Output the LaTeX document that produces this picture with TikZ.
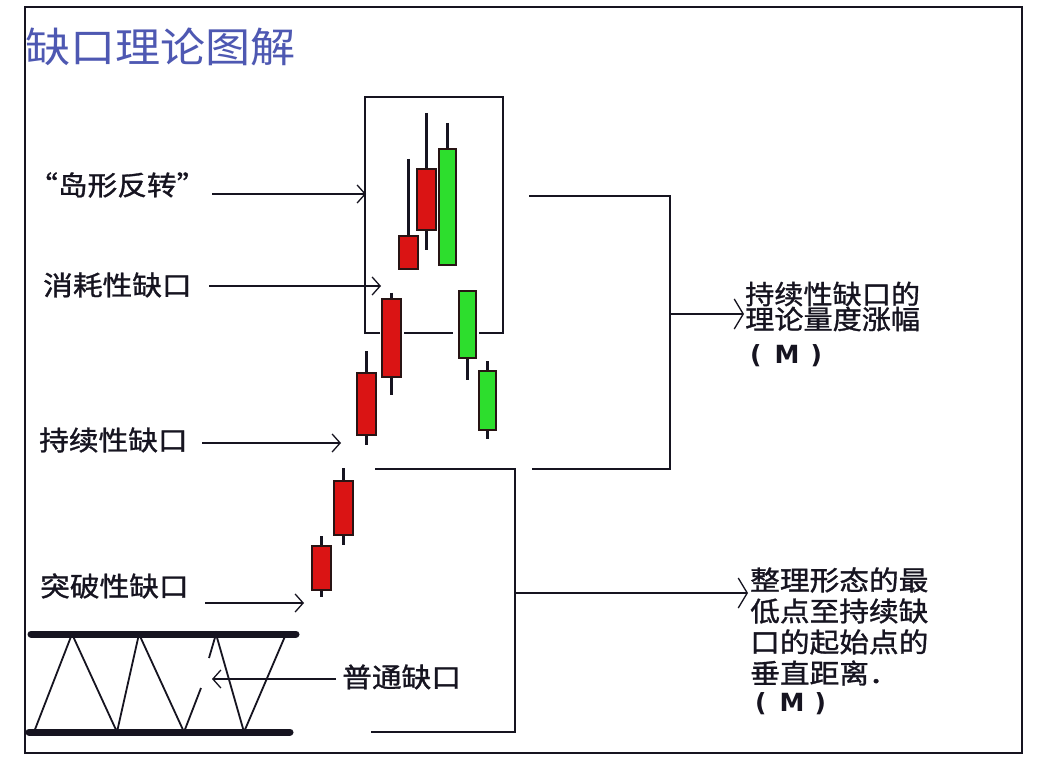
\documentclass[tikz,border=0pt]{standalone}
\usepackage{fontspec}
\usetikzlibrary{arrows.meta}
\newfontfamily\cjk[FakeStretch=1.1,FakeBold=1.2]{Noto Sans CJK SC}
\newfontfamily\cjkt[FakeStretch=1.1]{Noto Sans CJK SC}
\newfontfamily\mfont{DejaVu Sans}
\definecolor{ttl}{RGB}{78,88,178}
\definecolor{cred}{RGB}{218,20,20}
\definecolor{cgreen}{RGB}{45,222,45}
\definecolor{ink}{RGB}{22,20,32}
\definecolor{cedge}{RGB}{40,20,20}
\newcommand\candlebar[7]{%
  \draw[ink, line width=2.2pt] ({(#1+#2)/2},#3) -- ({(#1+#2)/2},#6);
  \filldraw[fill=#7, draw=cedge, line width=1.5pt] (#1,#4) rectangle (#2,#5);
}
\begin{document}
\begin{tikzpicture}[x=1pt,y=-1pt,
  lbl/.style={inner sep=0pt, anchor=west, text=ink, font=\cjk\fontsize{27}{27}\selectfont},
  rlbl/.style={inner sep=0pt, anchor=west, text=ink, font=\cjk\fontsize{26.5}{26.5}\selectfont},
  mlbl/.style={inner sep=0pt, anchor=west, text=ink, font=\mfont\bfseries\fontsize{25}{25}\selectfont},
  ttlstyle/.style={inner sep=0pt, anchor=west, text=ttl, font=\cjkt\fontsize{41}{41}\selectfont},
  line/.style={draw=ink, line width=1.8pt},
  arr/.style={draw=ink, line width=1.3pt, -{Straight Barb[length=8pt,width=18pt,line width=1.3pt]}},
  rarr/.style={draw=ink, line width=1.5pt, -{Straight Barb[length=9pt,width=30pt,line width=1.3pt]}},
  bar/.style={draw=ink, line width=7pt, line cap=round},
  zig/.style={draw=ink, line width=1.8pt, line join=miter}
]
\useasboundingbox (0,0) rectangle (1050,770);
\fill[white] (0,0) rectangle (1050,770);
\draw[ink, line width=2pt] (25,7) rectangle (1022,753);

% title
\node[ttlstyle] (title) at (25,47) {缺口理论图解};

% left labels
\node[lbl] (island) at (28,185) {“岛形反转”};
\node[lbl] (exhaust) at (43,285) {消耗性缺口};
\node[lbl] (contin) at (39,440) {持续性缺口};
\node[lbl] (breakaway) at (40,586) {突破性缺口};
\node[lbl] (common) at (342,677) {普通缺口};

% island box
\draw[line] (380,333) -- (365,333) -- (365,97) -- (503,97) -- (503,333) -- (479,333);
\draw[line] (404,333) -- (453,333);

% candles
\candlebar{399}{418}{159}{236}{269}{269}{cred}
\candlebar{417}{436}{113}{169}{230}{250}{cred}
\candlebar{439}{456}{123}{149}{265}{265}{cgreen}
\candlebar{382}{401}{293}{299}{377}{395}{cred}
\candlebar{459}{476}{291}{291}{358}{380}{cgreen}
\candlebar{479}{496}{361}{371}{430}{439}{cgreen}
\candlebar{357}{376}{351}{373}{435}{445}{cred}
\candlebar{334}{353}{468}{481}{535}{545}{cred}
\candlebar{312}{331}{536}{546}{590}{597}{cred}

% left arrows
\coordinate (a1s) at (212,194); \coordinate (a1e) at (366,194);
\coordinate (a2s) at (209,286); \coordinate (a2e) at (381,286);
\coordinate (a3s) at (202,443); \coordinate (a3e) at (341,443);
\coordinate (a4s) at (205,603); \coordinate (a4e) at (304,603);
\coordinate (a5s) at (336,679); \coordinate (a5e) at (212,679);
\draw[arr] (a1s) -- (a1e);
\draw[arr] (a2s) -- (a2e);
\draw[arr] (a3s) -- (a3e);
\draw[arr] (a4s) -- (a4e);
\draw[arr] (a5s) -- (a5e);

% zigzag consolidation
\draw[zig] (34,732) -- (72,634) -- (117,732) -- (139,634) -- (184,732) -- (201,688);
\draw[zig] (209,658) -- (216,634) -- (244,732) -- (286,634);
\draw[bar] (31,634) -- (296,634);
\draw[bar] (29,732) -- (290,732);

% upper bracket
\coordinate (ub1) at (529,196); \coordinate (ub2) at (670,196);
\coordinate (ub3) at (670,469); \coordinate (ub4) at (532,469);
\draw[line] (ub1) -- (ub2) -- (ub3) -- (ub4);
\coordinate (um) at (670,314); \coordinate (ume) at (744,314);
\draw[rarr] (um) -- (ume);

% lower bracket
\coordinate (lb1) at (375,469); \coordinate (lb2) at (515,469);
\coordinate (lb3) at (515,732); \coordinate (lb4) at (371,732);
\draw[line] (lb1) -- (lb2) -- (lb3) -- (lb4);
\coordinate (lm) at (515,593); \coordinate (lme) at (748,593);
\draw[rarr] (lm) -- (lme);

% right labels
\node[rlbl] (r1a) at (745,294) {持续性缺口的};
\node[rlbl] (r1b) at (745,319) {理论量度涨幅};
\node[mlbl] (r1c) at (750,356) {(\hspace{13pt}M\hspace{11pt})};

\node[lbl] (r2a) at (750,580) {整理形态的最};
\node[lbl] (r2b) at (750,611) {低点至持续缺};
\node[lbl] (r2c) at (750,642) {口的起始点的};
\node[lbl] (r2d) at (750,673) {垂直距离．};
\node[mlbl] (r2e) at (755,704) {(\hspace{13pt}M\hspace{10pt})};
\end{tikzpicture}
\end{document}
